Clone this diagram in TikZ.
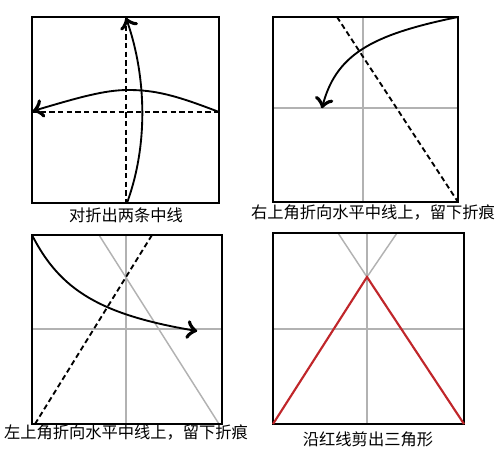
\documentclass[tikz,border=0pt]{standalone}
\usepackage{fontspec}
\setmainfont{Noto Sans CJK SC}
\usetikzlibrary{arrows}
\usetikzlibrary{decorations.markings}
\usetikzlibrary{positioning}
\definecolor{crease}{RGB}{178,178,178}
\definecolor{cutred}{RGB}{192,38,42}
\tikzset{paper/.style = {line width=1.5pt},
         foldline/.style = {dashed, line width=1.4pt, dash pattern=on 4pt off 2.5pt},
         oldcrease/.style = {color=crease, line width=1.1pt},
         foldarrow/.style = {line width=1.4pt, decoration={markings,
                                  mark=at position 1 with {\arrow[scale=2.1]{to}}},
                             postaction={decorate}},
         caption/.style = {font=\fontsize{12.2pt}{14pt}\selectfont, inner sep=0pt}}

\begin{document}
\begin{tikzpicture}[x=0.75pt, y=-0.75pt]
      \useasboundingbox (0, 0) rectangle (500, 463);
      % first square
      \draw [foldline] (126, 17) -- (126, 203);
      \draw [foldline] (32, 112) -- (219, 112);
      \draw [paper] (32, 17) rectangle (219, 203);
      \coordinate (p1b) at (127, 203);
      \coordinate (p1t) at (126, 18);
      \coordinate (p1r) at (219, 112);
      \coordinate (p1top) at (128, 90);
      \coordinate (p1l) at (33, 111);
      \draw [foldarrow] (p1b) .. controls (150, 140) and (145, 70) .. (p1t);
      \draw [foldarrow] (p1r) .. controls (175, 95) and (155, 90) .. (p1top)
                              .. controls (105, 90) and (80, 97) .. (p1l);
      \node [caption] (cap1) at (126, 215) {对折出两条中线};
      % second square
      \draw [oldcrease] (363, 17) -- (363, 202);
      \draw [oldcrease] (273, 108) -- (458, 108);
      \draw [foldline] (337, 17) -- (458, 202);
      \draw [paper] (273, 17) rectangle (458, 202);
      \coordinate (p2c) at (458, 17);
      \coordinate (p2e) at (322, 108);
      \draw [foldarrow] (p2c) .. controls (370, 35) and (335, 55) .. (p2e);
      \node [caption] (cap2) at (373, 213) {右上角折向水平中线上，留下折痕};
      % third square
      \draw [oldcrease] (126, 235) -- (126, 424);
      \draw [oldcrease] (32, 329) -- (222, 329);
      \draw [oldcrease] (99, 235) -- (219, 424);
      \draw [foldline] (35, 424) -- (152, 235);
      \draw [paper] (32, 235) rectangle (222, 424);
      \coordinate (p3c) at (32, 235);
      \coordinate (p3e) at (197, 331);
      \draw [foldarrow] (p3c) .. controls (60, 290) and (100, 315) .. (p3e);
      \node [caption] (cap3) at (126, 433) {左上角折向水平中线上，留下折痕};
      % fourth square
      \draw [oldcrease] (367, 233) -- (367, 424);
      \draw [oldcrease] (273, 329) -- (464, 329);
      \coordinate (apex) at (367, 277);
      \coordinate (cutl) at (273, 424);
      \coordinate (cutr) at (464, 424);
      \draw [oldcrease] (338, 233) -- (apex);
      \draw [oldcrease] (397, 233) -- (apex);
      \draw [paper] (273, 233) rectangle (464, 424);
      \draw [cutred, line width=1.6pt] (cutl) -- (apex) -- (cutr);
      \node [caption] (cap4) at (368, 439) {沿红线剪出三角形};
\end{tikzpicture}
\end{document}
